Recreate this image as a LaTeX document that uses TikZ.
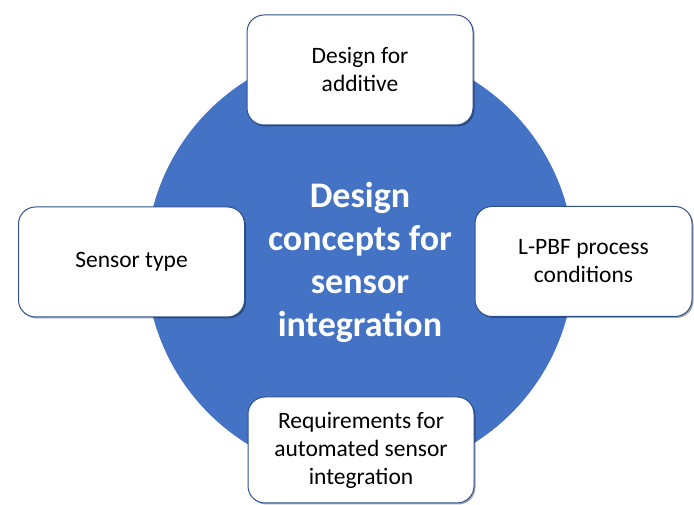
\documentclass[tikz,border=0pt]{standalone}
\usepackage{fontspec}
\setmainfont{Carlito}
\usetikzlibrary{shadows}
\definecolor{hubblue}{RGB}{68,114,196}
\definecolor{rimblue}{RGB}{47,82,143}

\begin{document}
\begin{tikzpicture}[x=1pt,y=1pt,
  hub/.style={circle, fill=hubblue, minimum size=428pt, inner sep=0pt, align=center,
    text=white, font=\bfseries\fontsize{36}{43}\selectfont},
  aspect/.style={draw=rimblue, line width=1pt, fill=white, rounded corners=17pt,
    minimum width=226pt, minimum height=110pt, align=center,
    font=\fontsize{23.5}{28}\selectfont,
    drop shadow={shadow xshift=1.5pt, shadow yshift=-1.5pt, opacity=0.35, fill=black}}]
  \useasboundingbox (0,0) rectangle (694,505);
  \node[hub] (concepts) at (360,243) {Design\\concepts for\\sensor\\integration};
  % the four aspects round the hub
  \node[aspect] (additive) at (360,435) {Design for\\additive};
  \node[aspect] (sensortype) at (131.5,243) {Sensor type};
  \node[aspect, minimum width=217pt] (lpbf) at (583.5,243.5) {L-PBF process\\conditions};
  \node[aspect, minimum height=106pt] (requirements) at (361,55) {Requirements for\\automated sensor\\integration};
\end{tikzpicture}
\end{document}
